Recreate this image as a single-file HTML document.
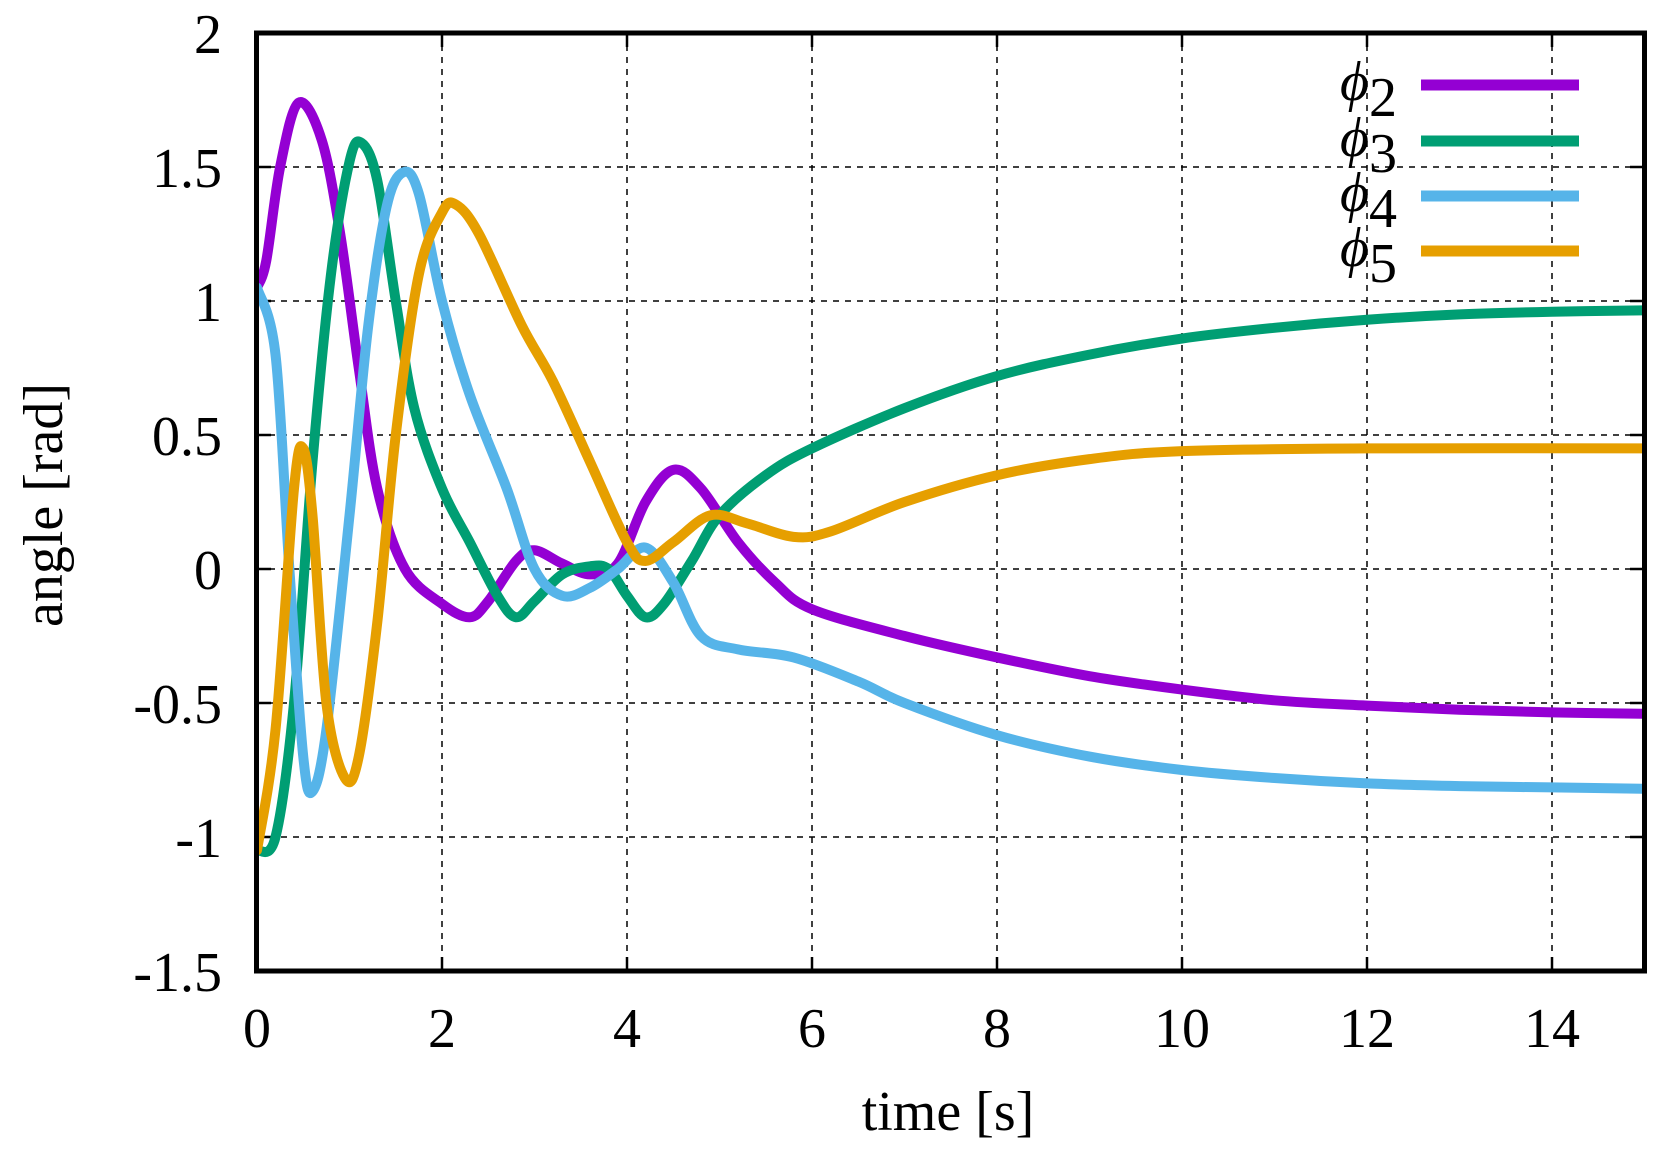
<!DOCTYPE html>
<html><head><meta charset="utf-8"><style>
html,body{margin:0;padding:0;background:#fff;}
svg{display:block;font-family:"Liberation Serif","DejaVu Serif",serif;}
text{font-family:"Liberation Serif","DejaVu Serif",serif;fill:#000;}
</style></head><body>
<svg id="s" width="1673" height="1152" xmlns="http://www.w3.org/2000/svg" font-family="Liberation Serif, serif">
<defs><clipPath id="cp"><rect x="259" y="35" width="1383" height="934"/></clipPath></defs>
<g id="grid" stroke="#000" stroke-width="1.5" stroke-dasharray="6,6" fill="none"></g>
<g id="ticks" stroke="#000" stroke-width="2.5"></g>
<g id="labels" font-size="56"></g>
<g id="curves" fill="none" stroke-width="10" stroke-linejoin="round" stroke-linecap="round" clip-path="url(#cp)"></g>
<rect x="256.5" y="33" width="1388" height="938" fill="none" stroke="#000" stroke-width="5"/>
<text x="948" y="1130" font-size="56" text-anchor="middle">time [s]</text>
<text transform="translate(62,505) rotate(-90)" font-size="56" text-anchor="middle">angle [rad]</text>
<g font-size="56" font-style="italic">
<text x="1340" y="100">ϕ<tspan font-style="normal" dy="16">2</tspan></text>
<text x="1340" y="156">ϕ<tspan font-style="normal" dy="16">3</tspan></text>
<text x="1340" y="211">ϕ<tspan font-style="normal" dy="16">4</tspan></text>
<text x="1340" y="266">ϕ<tspan font-style="normal" dy="16">5</tspan></text>
</g>
<g stroke-width="11">
<line x1="1421" y1="85" x2="1579" y2="85" stroke="#9400d3"/>
<line x1="1421" y1="141" x2="1579" y2="141" stroke="#009e73"/>
<line x1="1421" y1="196" x2="1579" y2="196" stroke="#56b4e9"/>
<line x1="1421" y1="251" x2="1579" y2="251" stroke="#e69f00"/>
</g>
</svg>
<script>
var X=function(t){return 257+92.5*t;}, Y=function(v){return 33+268*(2-v);};
var NS="http://www.w3.org/2000/svg";
function el(p,n,a,txt){var e=document.createElementNS(NS,n);for(var k in a)e.setAttribute(k,a[k]);if(txt!==undefined)e.textContent=txt;document.getElementById(p).appendChild(e);}
for(var t=2;t<=14;t+=2){el('grid','line',{x1:X(t),y1:33,x2:X(t),y2:971});}
for(var v=-1;v<=1.5;v+=0.5){el('grid','line',{x1:257,y1:Y(v),x2:1644,y2:Y(v)});}
for(var t=0;t<=14;t+=2){el('ticks','line',{x1:X(t),y1:971,x2:X(t),y2:957});el('ticks','line',{x1:X(t),y1:33,x2:X(t),y2:47});
 el('labels','text',{x:X(t),y:1047,'text-anchor':'middle'},String(t));}
for(var v=-1.5;v<=2.01;v+=0.5){el('ticks','line',{x1:257,y1:Y(v),x2:271,y2:Y(v)});el('ticks','line',{x1:1644,y1:Y(v),x2:1630,y2:Y(v)});
 el('labels','text',{x:222,y:Y(v)+20,'text-anchor':'end'},String(Math.round(v*10)/10));}
var D={
"#9400d3":[[0,1.05],[0.1,1.15],[0.25,1.5],[0.45,1.74],[0.7,1.6],[0.9,1.25],[1.1,0.75],[1.3,0.3],[1.6,0.0],[2,-0.13],[2.3,-0.18],[2.5,-0.12],[2.8,0.03],[3.0,0.07],[3.3,0.02],[3.6,-0.02],[3.9,0.02],[4.2,0.25],[4.5,0.37],[4.8,0.3],[5.2,0.1],[5.6,-0.05],[6,-0.15],[7,-0.25],[8,-0.33],[9,-0.4],[10,-0.45],[11,-0.49],[12,-0.51],[13,-0.525],[14,-0.535],[15,-0.54]],
"#009e73":[[0,-1.05],[0.2,-1],[0.4,-0.5],[0.6,0.4],[0.8,1.1],[1.0,1.52],[1.13,1.59],[1.3,1.45],[1.5,1.0],[1.7,0.6],[2,0.3],[2.3,0.1],[2.6,-0.1],[2.8,-0.18],[3.0,-0.12],[3.3,-0.02],[3.6,0.01],[3.8,0.0],[4.0,-0.1],[4.2,-0.18],[4.4,-0.13],[4.7,0.03],[5,0.2],[5.5,0.35],[6,0.45],[7,0.6],[8,0.72],[9,0.8],[10,0.86],[11,0.9],[12,0.93],[13,0.95],[14,0.96],[15,0.965]],
"#56b4e9":[[0,1.05],[0.2,0.8],[0.35,0.0],[0.5,-0.7],[0.6,-0.83],[0.75,-0.6],[1.0,0.2],[1.2,0.9],[1.4,1.35],[1.58,1.48],[1.75,1.4],[2.0,1.0],[2.3,0.65],[2.7,0.3],[3.0,0.0],[3.3,-0.1],[3.6,-0.07],[3.9,0.0],[4.2,0.08],[4.5,-0.05],[4.8,-0.25],[5.2,-0.3],[5.8,-0.33],[6.5,-0.42],[7,-0.5],[8,-0.62],[9,-0.7],[10,-0.75],[11,-0.78],[12,-0.8],[13,-0.81],[14,-0.815],[15,-0.82]],
"#e69f00":[[0,-1.05],[0.2,-0.6],[0.4,0.3],[0.5,0.45],[0.6,0.2],[0.75,-0.5],[0.95,-0.78],[1.1,-0.7],[1.3,-0.2],[1.5,0.5],[1.75,1.1],[2.0,1.33],[2.15,1.36],[2.4,1.25],[2.86,0.91],[3.2,0.7],[3.6,0.4],[4.0,0.1],[4.2,0.03],[4.5,0.1],[4.9,0.2],[5.3,0.17],[5.8,0.12],[6.2,0.14],[7,0.25],[8,0.35],[9,0.41],[10,0.44],[12,0.45],[15,0.45]]};
for(var c in D){var p=D[c].map(function(q){return [X(q[0]),Y(q[1])];});
 var d="M"+p[0][0]+","+p[0][1];
 for(var i=0;i<p.length-1;i++){var p0=p[Math.max(i-1,0)],p1=p[i],p2=p[i+1],p3=p[Math.min(i+2,p.length-1)];
  d+=" C"+(p1[0]+(p2[0]-p0[0])/6)+","+(p1[1]+(p2[1]-p0[1])/6)+" "+(p2[0]-(p3[0]-p1[0])/6)+","+(p2[1]-(p3[1]-p1[1])/6)+" "+p2[0]+","+p2[1];}
 el('curves','path',{d:d,stroke:c});}
</script>
</body></html>
